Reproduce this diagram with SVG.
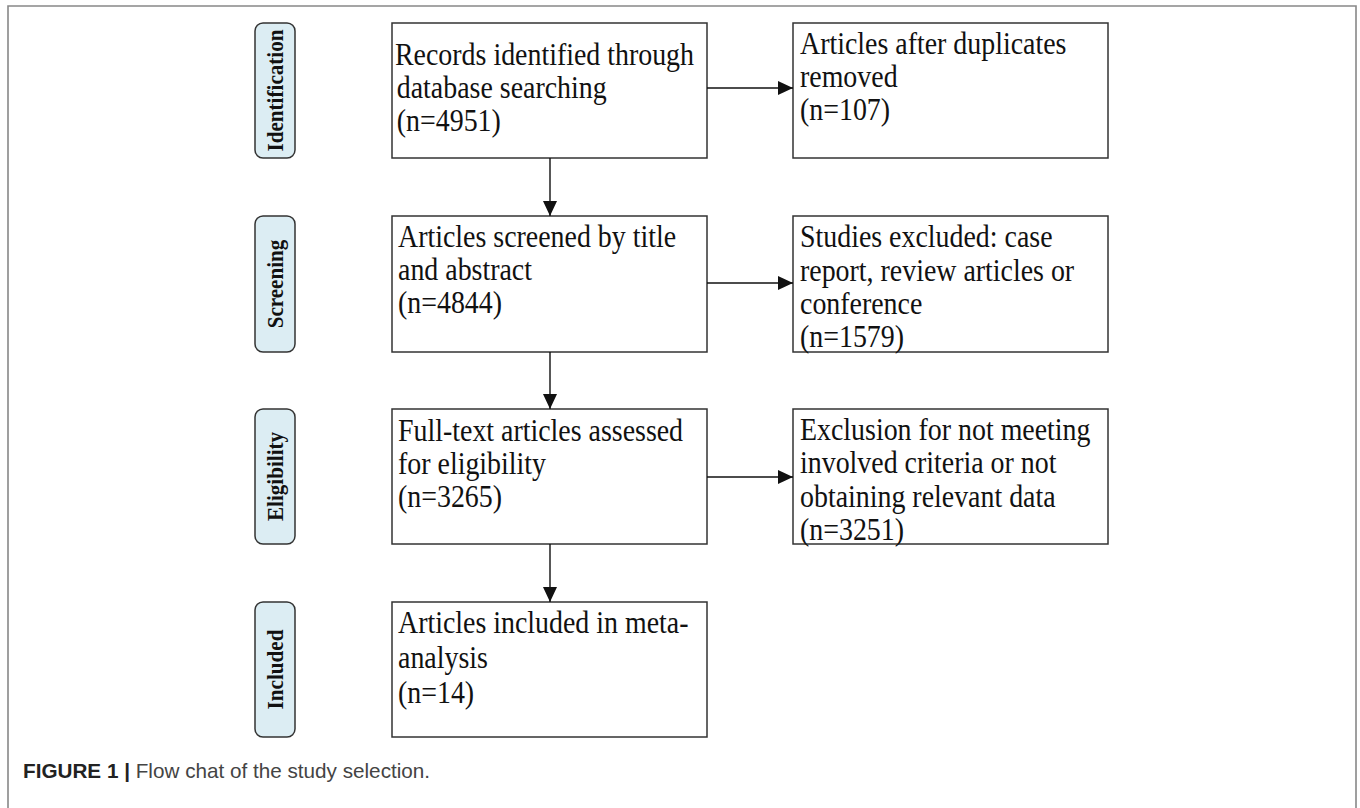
<svg xmlns="http://www.w3.org/2000/svg" width="1360" height="808" viewBox="0 0 1360 808">
<style>
.box{fill:#fff;stroke:#333;stroke-width:1.5}
.pill{fill:#dcedf3;stroke:#333;stroke-width:1.5}
.t{font-family:"Liberation Serif","Times New Roman",serif;font-size:31px;fill:#111}
.pl{font-family:"Liberation Serif","Times New Roman",serif;font-size:24px;font-weight:bold;fill:#111;text-anchor:middle}
.ln{stroke:#111;stroke-width:1.4;fill:none}
</style>
<defs>
<marker id="ah" markerWidth="15" markerHeight="14" refX="15" refY="7" orient="auto" markerUnits="userSpaceOnUse">
<path d="M0,0 L15,7 L0,14 Z" fill="#111"/>
</marker>
</defs>
<rect x="0" y="0" width="1360" height="808" fill="#fff"/>
<path d="M8,808 L8,6 L1356,6 L1356,808" fill="none" stroke="#888" stroke-width="1.6"/>

<g id="phase-identification">
<rect class="pill" x="255" y="23" width="40" height="135" rx="8"/>
<text class="pl" transform="translate(283,90.5) rotate(-90) scale(0.88,1)">Identification</text>
</g>
<g id="phase-screening">
<rect class="pill" x="255" y="216" width="40" height="136" rx="8"/>
<text class="pl" transform="translate(283,284) rotate(-90) scale(0.88,1)">Screening</text>
</g>
<g id="phase-eligibility">
<rect class="pill" x="255" y="409" width="40" height="135" rx="8"/>
<text class="pl" transform="translate(283,476.5) rotate(-90) scale(0.88,1)">Eligibility</text>
</g>
<g id="phase-included">
<rect class="pill" x="255" y="602" width="40" height="135" rx="8"/>
<text class="pl" transform="translate(283,669.5) rotate(-90) scale(0.88,1)">Included</text>
</g>

<g id="records">
<rect class="box" x="392" y="23" width="315" height="135"/>
<g transform="translate(395,0) scale(0.9,1)">
<text class="t" x="0" y="65">Records identified through</text>
<text class="t" x="2" y="98">database searching</text>
<text class="t" x="2" y="131">(n=4951)</text>
</g>
</g>
<g id="duplicates">
<rect class="box" x="793" y="23" width="315" height="135"/>
<g transform="translate(800,0) scale(0.9,1)">
<text class="t" x="0" y="54">Articles after duplicates</text>
<text class="t" x="0" y="87">removed</text>
<text class="t" x="0" y="120">(n=107)</text>
</g>
</g>
<g id="screened">
<rect class="box" x="392" y="216" width="315" height="136"/>
<g transform="translate(398,0) scale(0.9,1)">
<text class="t" x="0" y="247">Articles screened by title</text>
<text class="t" x="0" y="280">and abstract</text>
<text class="t" x="0" y="313">(n=4844)</text>
</g>
</g>
<g id="excluded-screening">
<rect class="box" x="793" y="216" width="315" height="136"/>
<g transform="translate(800,0) scale(0.9,1)">
<text class="t" x="0" y="247">Studies excluded: case</text>
<text class="t" x="0" y="281">report, review articles or</text>
<text class="t" x="0" y="314">conference</text>
<text class="t" x="0" y="347">(n=1579)</text>
</g>
</g>
<g id="fulltext">
<rect class="box" x="392" y="409" width="315" height="135"/>
<g transform="translate(398,0) scale(0.9,1)">
<text class="t" x="0" y="441">Full-text articles assessed</text>
<text class="t" x="0" y="474">for eligibility</text>
<text class="t" x="0" y="507">(n=3265)</text>
</g>
</g>
<g id="excluded-eligibility">
<rect class="box" x="793" y="409" width="315" height="135"/>
<g transform="translate(800,0) scale(0.9,1)">
<text class="t" x="0" y="440">Exclusion for not meeting</text>
<text class="t" x="0" y="473">involved criteria or not</text>
<text class="t" x="0" y="507">obtaining relevant data</text>
<text class="t" x="0" y="540">(n=3251)</text>
</g>
</g>
<g id="included">
<rect class="box" x="392" y="602" width="315" height="135"/>
<g transform="translate(398,0) scale(0.9,1)">
<text class="t" x="0" y="633">Articles included in meta-</text>
<text class="t" x="0" y="668">analysis</text>
<text class="t" x="0" y="703">(n=14)</text>
</g>
</g>

<g id="connectors">
<line class="ln" x1="707" y1="88" x2="793" y2="88" marker-end="url(#ah)"/>
<line class="ln" x1="707" y1="283" x2="793" y2="283" marker-end="url(#ah)"/>
<line class="ln" x1="707" y1="477" x2="793" y2="477" marker-end="url(#ah)"/>
<line class="ln" x1="550" y1="158" x2="550" y2="216" marker-end="url(#ah)"/>
<line class="ln" x1="550" y1="352" x2="550" y2="409" marker-end="url(#ah)"/>
<line class="ln" x1="550" y1="544" x2="550" y2="602" marker-end="url(#ah)"/>
</g>

<g id="caption">
<text x="23" y="778" font-family="'Liberation Sans',Arial,sans-serif" font-size="20.7" fill="#444"><tspan font-weight="bold" fill="#222">FIGURE 1 | </tspan>Flow chat of the study selection.</text>
</g>
</svg>
